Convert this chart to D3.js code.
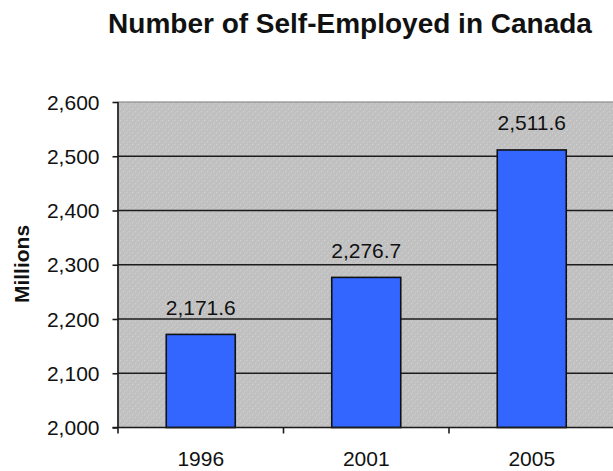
<!DOCTYPE html>
<html>
<head>
<meta charset="utf-8">
<script src="https://cdn.jsdelivr.net/npm/d3@7"></script>
<style>
  html, body { margin: 0; padding: 0; background: #fff; }
  svg { display: block; }
  text { font-family: "Liberation Sans", Arial, sans-serif; fill: #111; }
</style>
</head>
<body>
<svg id="chart" width="613" height="471"></svg>
<script>
// Self-employed counts by census year
const years = ["1996", "2001", "2005"];
const selfEmployed = [2171.6, 2276.7, 2511.6];
const yTickValues = [2000, 2100, 2200, 2300, 2400, 2500, 2600];

const svg = d3.select("#chart");

// Plot area (right edge runs past the page edge)
const plot = { left: 118, right: 614.5, top: 102, bottom: 427.5 };

const x = d3.scaleBand()
  .domain(years)
  .range([plot.left, plot.right])
  .paddingInner(0.583)
  .paddingOuter(0.2915);

const y = d3.scaleLinear()
  .domain([2000, 2600])
  .range([plot.bottom, plot.top]);

const fmtTick = d3.format(",");
const fmtValue = d3.format(",.1f");

// Stippled grey fill for the plot background
const defs = svg.append("defs");
const pat = defs.append("pattern")
  .attr("id", "stipple")
  .attr("patternUnits", "userSpaceOnUse")
  .attr("width", 6).attr("height", 6);
pat.append("rect").attr("width", 6).attr("height", 6).attr("fill", "#c0c0c0");
[[0, 0], [3, 3], [1, 4], [4, 1]].forEach(([px, py], i) => {
  pat.append("rect")
    .attr("x", px).attr("y", py)
    .attr("width", 1.2).attr("height", 1.2)
    .attr("fill", i < 2 ? "#d2d2d2" : "#cacaca");
});

svg.append("rect")
  .attr("x", plot.left).attr("y", plot.top)
  .attr("width", plot.right - plot.left)
  .attr("height", plot.bottom - plot.top)
  .attr("fill", "url(#stipple)")
  .attr("stroke", "#8c8c8c")
  .attr("stroke-width", 1.2);

// Horizontal gridlines
svg.append("g")
  .selectAll("line")
  .data(yTickValues.filter(v => v > 2000 && v < 2600))
  .join("line")
  .attr("x1", plot.left).attr("x2", plot.right)
  .attr("y1", d => y(d)).attr("y2", d => y(d))
  .attr("stroke", "#1c1c1c")
  .attr("stroke-width", 1.6);

// Bars
svg.append("g")
  .selectAll("rect")
  .data(years.map((yr, i) => ({ yr, v: selfEmployed[i] })))
  .join("rect")
  .attr("x", d => x(d.yr))
  .attr("y", d => y(d.v))
  .attr("width", x.bandwidth())
  .attr("height", d => y(2000) - y(d.v))
  .attr("fill", "#3366ff")
  .attr("stroke", "#111")
  .attr("stroke-width", 1.6);

// Value labels
svg.append("g")
  .selectAll("text")
  .data(years.map((yr, i) => ({ yr, v: selfEmployed[i] })))
  .join("text")
  .attr("x", d => x(d.yr) + x.bandwidth() / 2)
  .attr("y", d => y(d.v) - 19.5)
  .attr("text-anchor", "middle")
  .attr("font-size", 21)
  .text(d => fmtValue(d.v));

// Y axis
const yAxis = d3.axisLeft(y)
  .tickValues(yTickValues)
  .tickFormat(fmtTick)
  .tickSize(5.5)
  .tickPadding(13);
const gy = svg.append("g")
  .attr("transform", `translate(${plot.left},0)`)
  .call(yAxis);
gy.select(".domain").attr("stroke", "#1c1c1c").attr("stroke-width", 1.6)
  .attr("d", `M0,${plot.top}V${plot.bottom}`);
gy.selectAll(".tick line").attr("stroke", "#1c1c1c").attr("stroke-width", 1.6);
gy.selectAll(".tick text")
  .attr("font-size", 21)
  .attr("font-family", "Liberation Sans, Arial, sans-serif")
  .attr("fill", "#111")
  .attr("dy", "0.34em");

// X axis: ticks sit on the category boundaries
const boundaries = years.map(yr => x(yr) - x.step() * x.paddingInner() / 2)
  .concat([plot.right]);
const gx = svg.append("g");
gx.append("line")
  .attr("x1", plot.left - 5.5).attr("x2", plot.right)
  .attr("y1", plot.bottom).attr("y2", plot.bottom)
  .attr("stroke", "#1c1c1c").attr("stroke-width", 1.6);
gx.selectAll("line.tk")
  .data(boundaries)
  .join("line")
  .attr("class", "tk")
  .attr("x1", d => d).attr("x2", d => d)
  .attr("y1", plot.bottom).attr("y2", plot.bottom + 6)
  .attr("stroke", "#1c1c1c").attr("stroke-width", 1.6);
gx.selectAll("text")
  .data(years)
  .join("text")
  .attr("x", d => x(d) + x.bandwidth() / 2)
  .attr("y", 466)
  .attr("text-anchor", "middle")
  .attr("font-size", 21)
  .text(d => d);

// Axis title
svg.append("text")
  .attr("transform", "translate(29,264) rotate(-90)")
  .attr("text-anchor", "middle")
  .attr("font-size", 21)
  .attr("font-weight", "bold")
  .text("Millions");

// Chart title
svg.append("text")
  .attr("x", 350)
  .attr("y", 33)
  .attr("text-anchor", "middle")
  .attr("font-size", 28)
  .attr("font-weight", "bold")
  .text("Number of Self-Employed in Canada");
</script>
</body>
</html>
